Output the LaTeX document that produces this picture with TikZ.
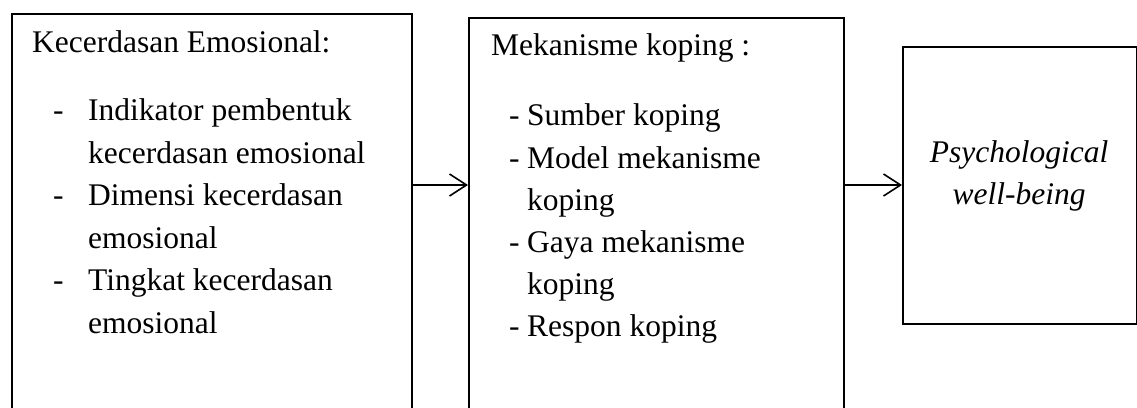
\documentclass[tikz,border=0pt]{standalone}
\usepackage{fontspec}
\setmainfont{Liberation Serif}
\usetikzlibrary{arrows.meta}
\tikzset{
  panel/.style={draw, line width=1.6pt, anchor=north west, inner sep=0pt},
  txt/.style={anchor=base west, inner sep=0pt, font=\fontsize{31.5}{42}\selectfont},
  ctxt/.style={anchor=base, inner sep=0pt, font=\fontsize{31.5}{42}\selectfont\itshape},
  link/.style={line width=1.6pt, -{Straight Barb[length=17pt,width=22pt,line width=1.6pt]}}
}
\begin{document}
\begin{tikzpicture}[x=1pt,y=-1pt]
\useasboundingbox (0,0) rectangle (1137,407);
\clip (0,0) rectangle (1137,407);
% boxes
\node[panel, minimum width=400pt, minimum height=410pt] (ke) at (11,13) {};
\node[panel, minimum width=375pt, minimum height=410pt] (mk) at (468,17) {};
\node[panel, minimum width=234pt, minimum height=277pt] (pw) at (902,46) {};
% left box
\node[txt] (ke0) at (32,52) {Kecerdasan Emosional:};
\node[txt] (ked1) at (53,120) {-};
\node[txt] (ke1) at (88,120) {Indikator pembentuk};
\node[txt] (ke1b) at (88,163) {kecerdasan emosional};
\node[txt] (ked2) at (53,205) {-};
\node[txt] (ke2) at (88,205) {Dimensi kecerdasan};
\node[txt] (ke2b) at (88,248) {emosional};
\node[txt] (ked3) at (53,290) {-};
\node[txt] (ke3) at (88,290) {Tingkat kecerdasan};
\node[txt] (ke3b) at (88,333) {emosional};
% middle box
\node[txt] (mk0) at (491,55) {Mekanisme koping :};
\node[txt] (mkd1) at (509,125) {-};
\node[txt] (mk1) at (527,125) {Sumber koping};
\node[txt] (mkd2) at (509,168) {-};
\node[txt] (mk2) at (527,168) {Model mekanisme};
\node[txt] (mk2b) at (527,210) {koping};
\node[txt] (mkd3) at (509,252) {-};
\node[txt] (mk3) at (527,252) {Gaya mekanisme};
\node[txt] (mk3b) at (527,294) {koping};
\node[txt] (mkd4) at (509,336) {-};
\node[txt] (mk4) at (527,336) {Respon koping};
% right box
\node[ctxt] (pw1) at (1019,162) {Psychological};
\node[ctxt] (pw2) at (1019,204) {well-being};
% connectors
\coordinate (row) at (0,185);
\draw[link] (ke.east |- row) -- (mk.west |- row);
\draw[link] (mk.east |- row) -- (pw.west |- row);
\end{tikzpicture}
\end{document}
